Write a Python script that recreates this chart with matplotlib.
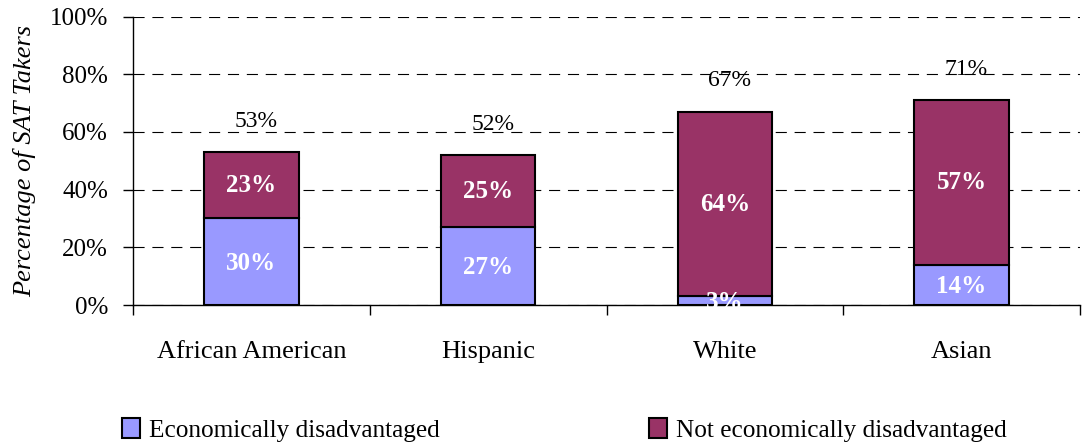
import matplotlib
matplotlib.use("Agg")
import matplotlib.pyplot as plt
from matplotlib.patches import Patch
import numpy as np

categories = ["African American", "Hispanic", "White", "Asian"]
econ_dis = [30, 27, 3, 14]
not_econ_dis = [23, 25, 64, 57]
totals = [53, 52, 67, 71]
series_names = ["Economically disadvantaged", "Not economically disadvantaged"]
yticks = [0, 20, 40, 60, 80, 100]

c1 = "#9999FF"
c2 = "#993366"

plt.rcParams['font.family'] = ['Liberation Serif', 'DejaVu Serif']

W, H = 1082, 446
fig = plt.figure(figsize=(W/100, H/100), dpi=100)
ax = fig.add_axes([133/W, 1 - 305/H, (1080-133)/W, (305-16.5)/H])

x = np.arange(len(categories))
bw = 0.4
ax.bar(x, econ_dis, bw, color=c1, edgecolor="black", linewidth=1.5, zorder=3)
ax.bar(x, not_econ_dis, bw, bottom=econ_dis, color=c2, edgecolor="black", linewidth=1.5, zorder=3)

for i in range(len(categories)):
    ax.text(x[i], econ_dis[i] / 2 - 0.5, f"{econ_dis[i]}%", ha="center", va="center",
            color="white", fontweight="bold", fontsize=18, zorder=4)
    ax.text(x[i], econ_dis[i] + not_econ_dis[i] / 2, f"{not_econ_dis[i]}%", ha="center", va="center",
            color="white", fontweight="bold", fontsize=18, zorder=4)
    ax.text(x[i] + 0.02, totals[i] + 10.7, f"{totals[i]}%", ha="center", va="center",
            color="black", fontsize=17, zorder=4)

ax.set_xlim(-0.5, 3.5)
ax.set_ylim(0, 100)
ax.set_yticks(yticks)
ax.set_yticklabels([f"{v}%" for v in yticks], fontsize=18)
ax.yaxis.grid(True, linestyle=(0, (10, 7)), color="black", linewidth=0.8, zorder=0)
ax.tick_params(axis="y", direction="out", length=7, width=1, pad=11)

ax.set_xticks(np.arange(-0.5, 4.0, 1.0))
ax.set_xticklabels([])
ax.tick_params(axis="x", which="major", direction="out", length=7, width=1)
ax.set_xticks(x, minor=True)
ax.set_xticklabels(categories, minor=True, fontsize=19)
ax.tick_params(axis="x", which="minor", length=0, pad=26)

for s in ["top", "right"]:
    ax.spines[s].set_visible(False)
ax.spines["left"].set_linewidth(1)
ax.spines["bottom"].set_linewidth(1)

ax.set_ylabel("Percentage of SAT Takers", fontsize=19, style="italic", labelpad=10)

handles = [Patch(facecolor=c1, edgecolor="black", linewidth=1.5),
           Patch(facecolor=c2, edgecolor="black", linewidth=1.5)]
fig.legend(handles, series_names, loc="center left", ncol=2,
           bbox_to_anchor=(122/W, 1 - 430/H), frameon=False, fontsize=18.2,
           handlelength=0.7, handleheight=0.8, handletextpad=0.35,
           columnspacing=8.3, borderpad=0, borderaxespad=0)

fig.savefig("out.png", dpi=100)
